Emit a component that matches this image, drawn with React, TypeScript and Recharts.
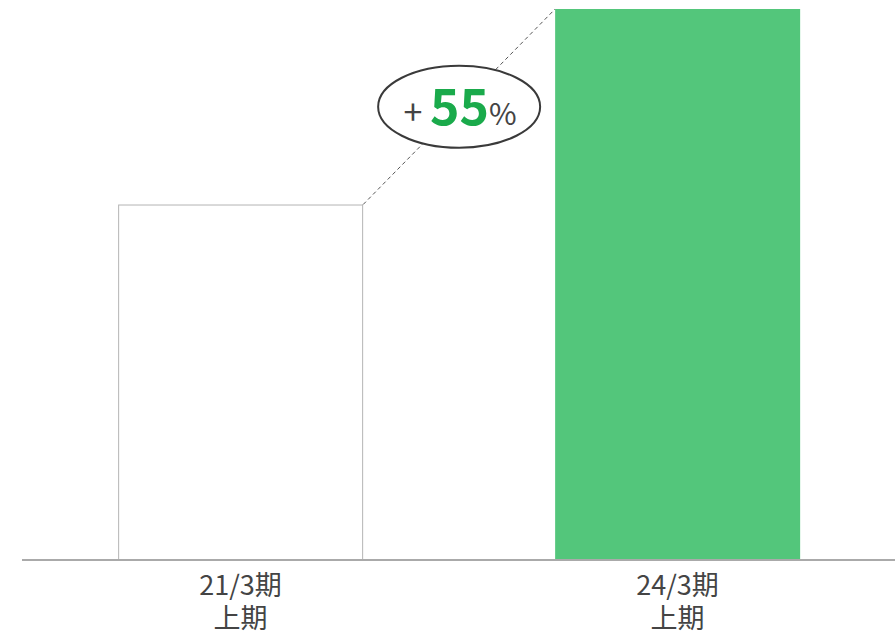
import { BarChart, Bar, XAxis, YAxis } from "recharts"

// period labels (two lines each) and values
const periods = ["21/3期", "24/3期"]
const halves = ["上期", "上期"]
const values = [100, 155]
const growthLabel = "55"

const chartData = periods.map((p, i) => ({
    period: p,
    half: halves[i],
    value: values[i],
}))

const FONT = '"Noto Sans CJK JP", "Noto Sans", sans-serif'
const GREEN = "#53c67b"

// first bar's geometry, remembered so the second bar can draw the connector
let prevBar: { x: number; y: number; width: number; height: number } | null = null

function BarShape(props: any) {
    const { x, y, width, height, index } = props
    if (index === 0) {
        prevBar = { x, y, width, height }
        return (
            <rect
                x={x + 0.5}
                y={y + 0.5}
                width={width - 1}
                height={height}
                fill="#ffffff"
                stroke="#b4b4b4"
                strokeWidth={1}
            />
        )
    }
    const p = prevBar
    const x1 = p ? p.x + p.width : x
    const y1 = p ? p.y : y
    const mx = (x1 + x) / 2
    const my = (y1 + y) / 2
    return (
        <g>
            <rect x={x} y={y} width={width} height={height} fill={GREEN} />
            <line x1={x1} y1={y1} x2={x} y2={y} stroke="#555" strokeWidth={1} strokeDasharray="4 3" />
            <ellipse cx={mx} cy={my} rx={81} ry={41} fill="#fff" stroke="#3a3a3a" strokeWidth={2} />
            <text x={mx + 1} y={my + 18} textAnchor="middle" fontFamily={FONT}>
                <tspan fontSize={34} fill="#444">+ </tspan>
                <tspan fontSize={50} fontWeight={700} fill="#1aaa4b">{growthLabel}</tspan>
                <tspan fontSize={30} fill="#444">%</tspan>
            </text>
        </g>
    )
}

function PeriodTick(props: any) {
    const { x, y, payload, index } = props
    return (
        <text x={x} y={y} textAnchor="middle" fontFamily={FONT} fontSize={27} fill="#444">
            <tspan x={x} dy={27}>{payload.value}</tspan>
            <tspan x={x} dy={33}>{halves[index]}</tspan>
        </text>
    )
}

export default function App() {
    return (
        <div style={{ position: "absolute", left: 0, top: 0, background: "#fff" }}>
            <BarChart
                width={896}
                height={634}
                data={chartData}
                margin={{ top: 9, right: 0, bottom: 0, left: 22 }}
                barCategoryGap="22%"
            >
                <YAxis hide domain={[0, 155]} />
                <XAxis
                    dataKey="period"
                    height={74}
                    tickLine={false}
                    axisLine={{ stroke: "#aaaaaa", strokeWidth: 2 }}
                    tick={<PeriodTick />}
                    interval={0}
                />
                <Bar dataKey="value" shape={<BarShape />} isAnimationActive={false} />
            </BarChart>
        </div>
    )
}
